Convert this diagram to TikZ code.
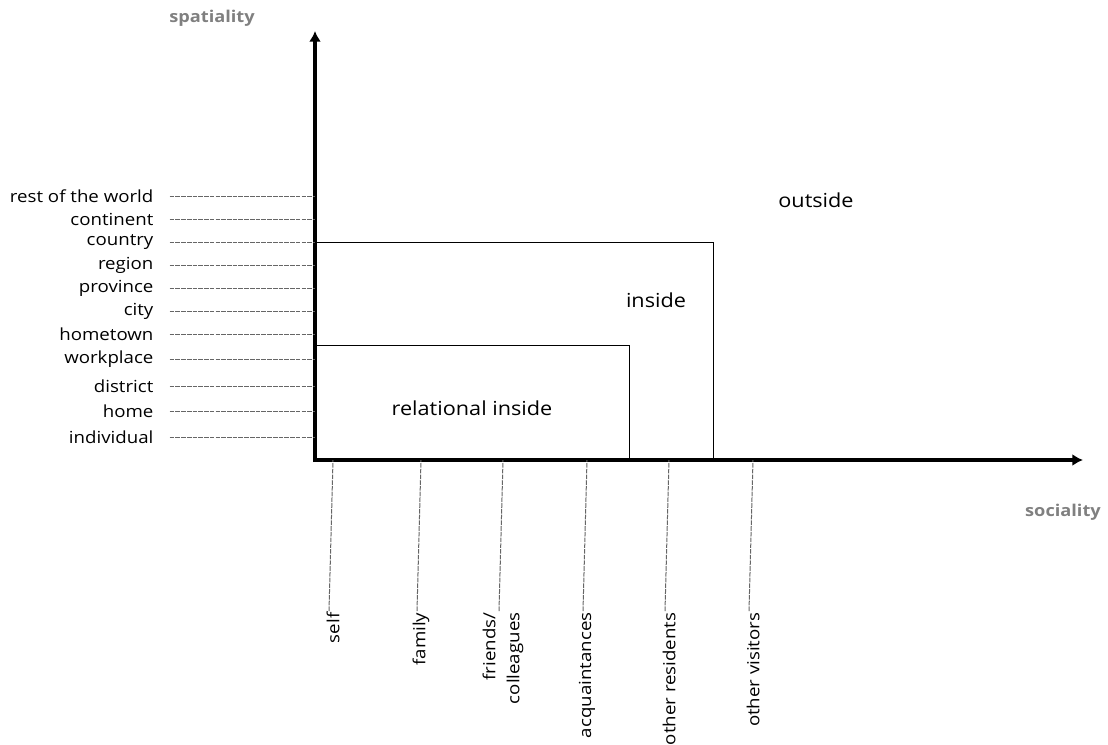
\documentclass[tikz,border=0pt]{standalone}
\usepackage{fontspec}
\setmainfont[FakeStretch=1.12]{Open Sans}
\usetikzlibrary{arrows.meta}

\begin{document}
\begin{tikzpicture}[x=0.75pt, y=-0.75pt,
  axis/.style={line width=3pt, -{Latex[length=8pt, width=9pt]}},
  tick/.style={black!60, line width=0.75pt, dash pattern=on 3.5pt off 0.8pt},
  zone/.style={line width=0.6pt},
  lbl/.style={font=\fontsize{12.5}{14}\selectfont, inner sep=1pt},
  big/.style={font=\fontsize{14.5}{17}\selectfont},
  axlbl/.style={font=\bfseries\fontsize{12.2}{14}\selectfont, text=gray}]

\useasboundingbox (0,0) rectangle (1108,744);

% Origin and axes
\coordinate (O) at (315, 460);
\coordinate (Ytop) at (315, 31);
\coordinate (Xend) at (1083, 460);
\draw[axis] ([yshift=-1.5pt]O) -- (Ytop);
\draw[axis] ([xshift=-1.5pt]O) -- (Xend);

% Axis titles
\node[axlbl] (spat) at (212, 18) {spatiality};
\node[axlbl] (soc) at (1063, 512) {sociality};

% Spatial scales on the vertical axis
\node[lbl, anchor=east] (world) at (155, 196) {rest of the world};
\node[lbl, anchor=east] (continent) at (155, 219) {continent};
\node[lbl, anchor=east] (country) at (155, 242) {country};
\node[lbl, anchor=east] (region) at (155, 265) {region};
\node[lbl, anchor=east] (province) at (155, 288) {province};
\node[lbl, anchor=east] (city) at (155, 311) {city};
\node[lbl, anchor=east] (hometown) at (155, 334) {hometown};
\node[lbl, anchor=east] (workplace) at (155, 359) {workplace};
\node[lbl, anchor=east] (district) at (155, 386) {district};
\node[lbl, anchor=east] (home) at (155, 411) {home};
\node[lbl, anchor=east] (individual) at (155, 437) {individual};

\draw[tick] ([xshift=11pt]world.east) -- (world -| O);
\draw[tick] ([xshift=11pt]continent.east) -- (continent -| O);
\draw[tick] ([xshift=11pt]country.east) -- (country -| O);
\draw[tick] ([xshift=11pt]region.east) -- (region -| O);
\draw[tick] ([xshift=11pt]province.east) -- (province -| O);
\draw[tick] ([xshift=11pt]city.east) -- (city -| O);
\draw[tick] ([xshift=11pt]hometown.east) -- (hometown -| O);
\draw[tick] ([xshift=11pt]workplace.east) -- (workplace -| O);
\draw[tick] ([xshift=11pt]district.east) -- (district -| O);
\draw[tick] ([xshift=11pt]home.east) -- (home -| O);
\draw[tick] ([xshift=11pt]individual.east) -- (individual -| O);

% Social circles on the horizontal axis
\node[lbl, rotate=90, anchor=east] (self) at (333, 611) {self};
\node[lbl, rotate=90, anchor=east] (family) at (421, 611) {family};
\node[lbl, rotate=90, anchor=east, align=right, font=\fontsize{12.5}{18}\selectfont] (friends) at (503, 611) {friends/\\colleagues};
\node[lbl, rotate=90, anchor=east] (acquaint) at (587, 611) {acquaintances};
\node[lbl, rotate=90, anchor=east] (residents) at (669, 611) {other residents};
\node[lbl, rotate=90, anchor=east] (visitors) at (753, 611) {other visitors};

\draw[tick] ([xshift=-3pt]self.east) -- (self.east |- O);
\draw[tick] ([xshift=-3pt]family.east) -- (family.east |- O);
\draw[tick] ([xshift=-3pt]friends.east) -- (friends.east |- O);
\draw[tick] ([xshift=-3pt]acquaint.east) -- (acquaint.east |- O);
\draw[tick] ([xshift=-3pt]residents.east) -- (residents.east |- O);
\draw[tick] ([xshift=-3pt]visitors.east) -- (visitors.east |- O);

% Zones
\coordinate (inTL) at (315, 242);
\coordinate (inBR) at (713, 460);
\coordinate (relTL) at (315, 345);
\coordinate (relBR) at (629, 460);
\draw[zone] (inTL) -| (inBR);
\draw[zone] (relTL) -| (relBR);

% Zone labels
\node[lbl, big] (relin) at (472, 408) {relational inside};
\node[lbl, big] (inside) at (656, 300) {inside};
\node[lbl, big] (outside) at (816, 200) {outside};

\end{tikzpicture}
\end{document}
